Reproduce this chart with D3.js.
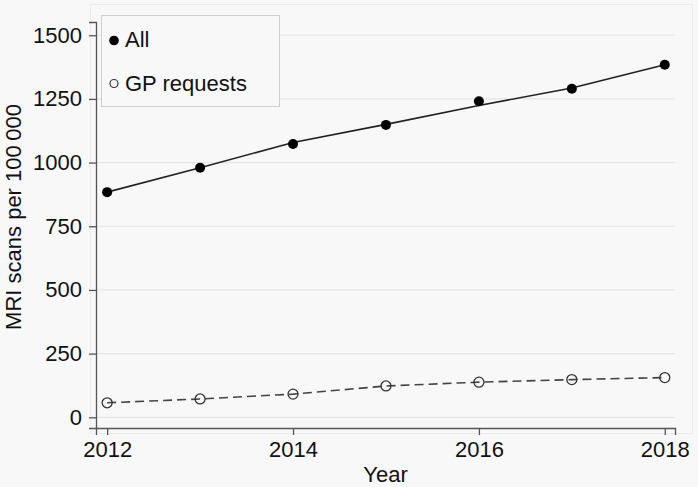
<!DOCTYPE html>
<html>
<head>
<meta charset="utf-8">
<script src="https://cdn.jsdelivr.net/npm/d3@7"></script>
<style>
  html, body { margin: 0; padding: 0; background: #f8f8f8; }
  svg { display: block; font-family: 'Liberation Sans', Arial, sans-serif; }
</style>
</head>
<body>
<div id="chart"></div>
<script>
const years = [2012, 2013, 2014, 2015, 2016, 2017, 2018];
const allScans = [884, 980, 1073, 1148, 1241, 1290, 1384];
const allFitted = [884, 980, 1079, 1150, 1224, 1293, 1384];
const gpScans = [57, 72, 91, 123, 138, 148, 156];
const xTicks = [2012, 2014, 2016, 2018];
const yTicks = [0, 250, 500, 750, 1000, 1250, 1500];

const width = 698;
const height = 487;
const margin = { top: 22, right: 23, bottom: 59, left: 96 };
const fontSize = 22;

const svg = d3.select('#chart').append('svg').attr('width', width).attr('height', height);

svg.append('rect').attr('width', width).attr('height', height).attr('fill', '#f8f8f8');

// faint outer plot region border
svg.append('rect')
  .attr('x', 90.5).attr('y', 4.5)
  .attr('width', 602).attr('height', 429)
  .attr('fill', 'none').attr('stroke', '#ececec');

const x = d3.scaleLinear().domain([2011.88, 2018.11]).range([margin.left, width - margin.right]);
const y = d3.scaleLinear().domain([-42, 1552]).range([height - margin.bottom, margin.top]);

const grid = svg.append('g');
grid.selectAll('line').data(yTicks).enter().append('line')
  .attr('x1', margin.left).attr('x2', width - margin.right)
  .attr('y1', d => y(d)).attr('y2', d => y(d))
  .attr('stroke', '#e6e6e6').attr('stroke-width', 1.2);

const yAxis = svg.append('g')
  .attr('transform', `translate(${margin.left},0)`)
  .call(d3.axisLeft(y).tickValues(yTicks).tickSize(7).tickPadding(7).tickFormat(d3.format('d')));
const xAxis = svg.append('g')
  .attr('transform', `translate(0,${height - margin.bottom})`)
  .call(d3.axisBottom(x).tickValues(xTicks).tickSize(7).tickPadding(6).tickFormat(d3.format('d')));

[yAxis, xAxis].forEach(a => {
  a.selectAll('path, line').attr('stroke', '#555').attr('stroke-width', 1.3);
  a.selectAll('text').attr('font-size', fontSize).attr('fill', '#111')
    .attr('font-family', "'Liberation Sans', Arial, sans-serif");
});

svg.append('text')
  .attr('transform', 'translate(21,217) rotate(-90)')
  .attr('text-anchor', 'middle').attr('font-size', fontSize).attr('fill', '#111')
  .text('MRI scans per 100\u2009000');

svg.append('text')
  .attr('x', (margin.left + width - margin.right) / 2).attr('y', 482)
  .attr('text-anchor', 'middle').attr('font-size', fontSize).attr('fill', '#111')
  .text('Year');

const line = d3.line().x(d => x(d[0])).y(d => y(d[1]));

svg.append('path')
  .datum(years.map((yr, i) => [yr, allFitted[i]]))
  .attr('d', line).attr('fill', 'none').attr('stroke', '#222').attr('stroke-width', 1.6);

svg.append('path')
  .datum(years.map((yr, i) => [yr, gpScans[i]]))
  .attr('d', line).attr('fill', 'none').attr('stroke', '#444').attr('stroke-width', 1.6)
  .attr('stroke-dasharray', '9,5');

svg.append('g').selectAll('circle').data(years).enter().append('circle')
  .attr('cx', d => x(d)).attr('cy', (d, i) => y(allScans[i]))
  .attr('r', 5).attr('fill', '#000');

svg.append('g').selectAll('circle').data(years).enter().append('circle')
  .attr('cx', d => x(d)).attr('cy', (d, i) => y(gpScans[i]))
  .attr('r', 5).attr('fill', 'none').attr('stroke', '#333').attr('stroke-width', 1.3);

// legend
const legend = svg.append('g');
legend.append('rect')
  .attr('x', 101.5).attr('y', 15.5).attr('width', 178).attr('height', 91)
  .attr('fill', '#f8f8f8').attr('stroke', '#cfcfcf');
legend.append('circle').attr('cx', 114).attr('cy', 40.5).attr('r', 4.8).attr('fill', '#000');
legend.append('circle').attr('cx', 114).attr('cy', 83.5).attr('r', 4)
  .attr('fill', 'none').attr('stroke', '#333').attr('stroke-width', 1.2);
legend.append('text').attr('x', 125).attr('y', 47).attr('font-size', fontSize).attr('fill', '#111').text('All');
legend.append('text').attr('x', 125).attr('y', 91).attr('font-size', fontSize).attr('fill', '#111').text('GP requests');
</script>
</body>
</html>
